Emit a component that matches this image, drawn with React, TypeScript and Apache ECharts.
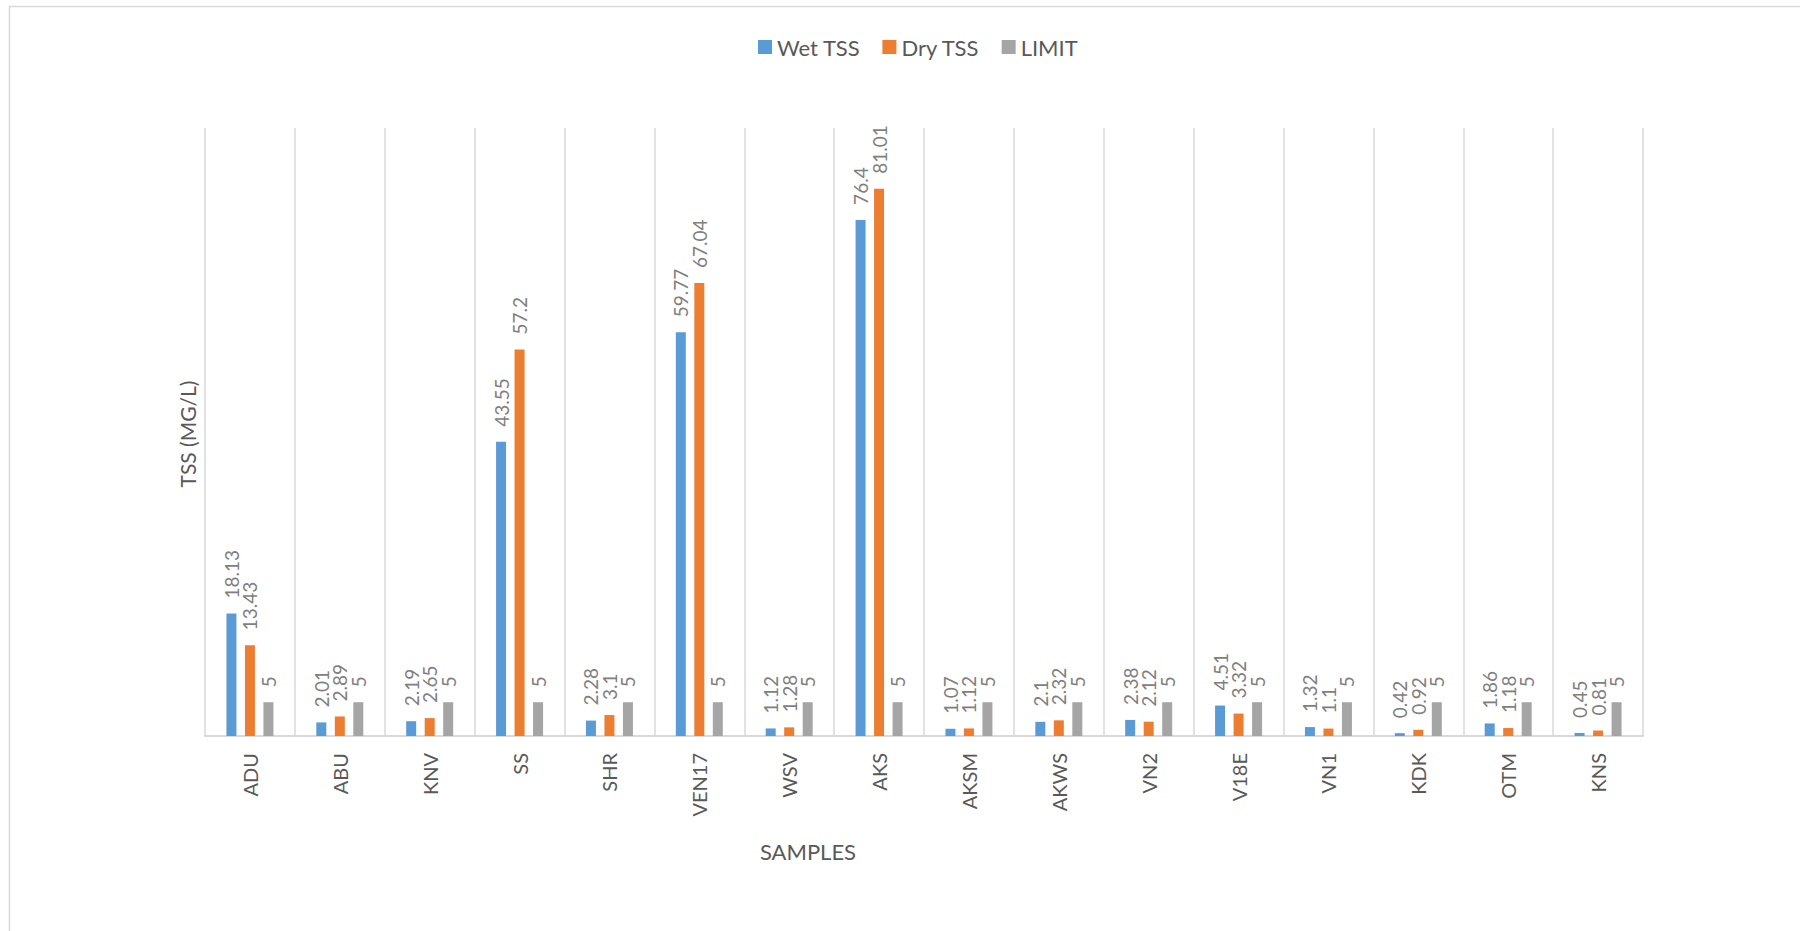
import React, { useEffect, useRef } from "react";
import * as echarts from "echarts";

// Sampling sites along the category axis
const samples = ["ADU", "ABU", "KNV", "SS", "SHR", "VEN17", "WSV", "AKS", "AKSM", "AKWS", "VN2", "V18E", "VN1", "KDK", "OTM", "KNS"];

// Total suspended solids (mg/L) per site
const wetTss = [18.13, 2.01, 2.19, 43.55, 2.28, 59.77, 1.12, 76.4, 1.07, 2.1, 2.38, 4.51, 1.32, 0.42, 1.86, 0.45];
const dryTss = [13.43, 2.89, 2.65, 57.2, 3.1, 67.04, 1.28, 81.01, 1.12, 2.32, 2.12, 3.32, 1.1, 0.92, 1.18, 0.81];
const limit = [5, 5, 5, 5, 5, 5, 5, 5, 5, 5, 5, 5, 5, 5, 5, 5];

const seriesNames = ["Wet TSS", "Dry TSS", "LIMIT"];
const seriesColors = ["#5b9bd5", "#ed7d31", "#a5a5a5"];

const FONT = "Lato, 'Open Sans', sans-serif";

export default function App() {
  const ref = useRef<HTMLDivElement>(null);

  useEffect(() => {
    if (!ref.current) return;
    const chart = echarts.init(ref.current, undefined, { renderer: "svg" });

    const label = {
      show: true,
      position: "top",
      rotate: 90,
      align: "left",
      verticalAlign: "middle",
      distance: 15,
      color: "#7f7f7f",
      fontSize: 19,
      fontFamily: FONT,
    };

    const makeSeries = (name: string, data: number[], color: string) => ({
      name,
      type: "bar",
      data,
      barWidth: 10,
      barGap: "85%",
      itemStyle: { color },
      label,
    });

    chart.setOption({
      animation: false,
      backgroundColor: "#ffffff",
      textStyle: { fontFamily: FONT },
      legend: {
        left: 753,
        top: 31,
        itemWidth: 14,
        itemHeight: 14,
        itemGap: 22,
        icon: "rect",
        textStyle: { color: "#595959", fontSize: 22, fontFamily: FONT },
        data: seriesNames,
      },
      grid: { left: 205, right: 157, top: 128, bottom: 195, containLabel: false },
      xAxis: {
        type: "category",
        data: samples,
        boundaryGap: true,
        axisLine: { show: true, lineStyle: { color: "#d9d9d9", width: 2 } },
        axisTick: { show: false },
        splitLine: { show: true, lineStyle: { color: "#d9d9d9", width: 1.5 } },
        axisLabel: {
          rotate: 90,
          margin: 17,
          color: "#595959",
          fontSize: 20,
          fontFamily: FONT,
          interval: 0,
        },
      },
      yAxis: {
        type: "value",
        min: 0,
        max: 90,
        axisLine: { show: false },
        axisTick: { show: false },
        axisLabel: { show: false },
        splitLine: { show: false },
      },
      graphic: [
        {
          type: "rect",
          shape: { x: 9.5, y: 6.5, width: 2000, height: 2000 },
          style: { fill: "none", stroke: "#d9d9d9", lineWidth: 1.5 },
          silent: true,
        },
        {
          type: "text",
          x: 187,
          y: 434,
          rotation: Math.PI / 2,
          style: {
            text: "TSS (MG/L)",
            fill: "#595959",
            fontSize: 21,
            fontFamily: FONT,
            align: "center",
            verticalAlign: "middle",
          },
        },
        {
          type: "text",
          x: 808,
          y: 851,
          style: {
            text: "SAMPLES",
            fill: "#595959",
            fontSize: 22,
            fontFamily: FONT,
            align: "center",
            verticalAlign: "middle",
          },
        },
      ],
      series: [
        makeSeries(seriesNames[0], wetTss, seriesColors[0]),
        makeSeries(seriesNames[1], dryTss, seriesColors[1]),
        makeSeries(seriesNames[2], limit, seriesColors[2]),
      ],
    });

    return () => chart.dispose();
  }, []);

  return (
    <div
      ref={ref}
      style={{ position: "absolute", left: 0, top: 0, width: 1800, height: 931 }}
    />
  );
}
